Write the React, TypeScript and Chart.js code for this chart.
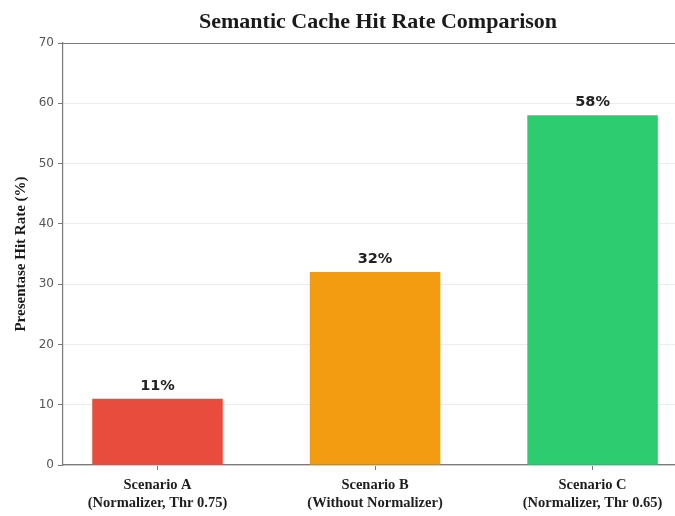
import { useEffect, useRef } from "react";
import { Chart, registerables } from "chart.js";

Chart.register(...registerables);

// Chart content
const chartTitle = "Semantic Cache Hit Rate Comparison";
const yAxisTitle = "Presentase Hit Rate (%)";
const scenarioNames = ["Scenario A", "Scenario B", "Scenario C"];
const scenarioDetails = ["(Normalizer, Thr 0.75)", "(Without Normalizer)", "(Normalizer, Thr 0.65)"];
const hitRates = [11, 32, 58];
const barColors = ["#e74c3c", "#f39c12", "#2ecc71"];
const yMin = 0;
const yMax = 70;
const yStep = 10;

// x range: bars sit at 0, 1, 2; the right side of the plot runs past the canvas edge
const xMin = -0.4345;
const xMax = 2.379;

const spineColor = "#7a7a7a";
const serif = "'Liberation Serif', 'Times New Roman', serif";
const sans = "'DejaVu Sans', sans-serif";

const decorations = {
  id: "decorations",
  afterDatasetsDraw(chart: any) {
    const { ctx, chartArea } = chart;
    const meta = chart.getDatasetMeta(0);
    ctx.save();

    // value labels above each bar
    ctx.font = `bold 14.5px ${sans}`;
    ctx.fillStyle = "#222";
    ctx.textAlign = "center";
    ctx.textBaseline = "alphabetic";
    meta.data.forEach((bar: any, i: number) => {
      ctx.fillText(`${hitRates[i]}%`, bar.x, bar.y - 9);
    });

    // top spine
    ctx.strokeStyle = spineColor;
    ctx.lineWidth = 1.2;
    ctx.beginPath();
    ctx.moveTo(chartArea.left, chartArea.top + 0.5);
    ctx.lineTo(chartArea.right, chartArea.top + 0.5);
    ctx.stroke();

    // title centred over the axes
    const xScale = chart.scales.x;
    ctx.font = `bold 22px ${serif}`;
    ctx.fillStyle = "#1a1a1a";
    ctx.textBaseline = "middle";
    ctx.fillText(chartTitle, xScale.getPixelForValue(1) + 3, 22);
    ctx.restore();
  },
};

export default function App() {
  const canvasRef = useRef<HTMLCanvasElement | null>(null);

  useEffect(() => {
    const canvas = canvasRef.current;
    if (!canvas) return;
    const chart = new Chart(canvas, {
      type: "bar",
      data: {
        datasets: [
          {
            data: hitRates.map((v, i) => ({ x: i, y: v })),
            backgroundColor: barColors,
            borderWidth: 0,
            categoryPercentage: 1,
            barPercentage: 0.6,
          },
        ],
      },
      options: {
        responsive: false,
        animation: false,
        layout: { padding: { top: 43, left: 0, right: 0, bottom: 0 } },
        plugins: {
          legend: { display: false },
          title: { display: false },
          tooltip: { enabled: false },
        },
        scales: {
          x: {
            type: "linear",
            min: xMin,
            max: xMax,
            offset: false,
            afterFit: (scale: any) => {
              scale.height = 51;
            },
            border: { color: spineColor, width: 1.2 },
            grid: {
              offset: false,
              drawOnChartArea: false,
              drawTicks: true,
              tickLength: 5,
              tickColor: spineColor,
            },
            ticks: {
              stepSize: 1,
              includeBounds: false,
              autoSkip: false,
              maxRotation: 0,
              padding: 7,
              color: "#1e1e1e",
              font: { family: serif, size: 14.5, weight: "bold", lineHeight: 1.2 },
              callback: (v: any) => {
                const i = Math.round(Number(v));
                return i >= 0 && i < scenarioNames.length ? [scenarioNames[i], scenarioDetails[i]] : "";
              },
            },
          },
          y: {
            min: yMin,
            max: yMax,
            afterFit: (scale: any) => {
              scale.width = 63;
            },
            border: { color: spineColor, width: 1.2 },
            grid: {
              color: "#ececec",
              lineWidth: 1,
              tickLength: 5,
              tickColor: spineColor,
            },
            ticks: {
              stepSize: yStep,
              padding: 4,
              color: "#555",
              font: { family: sans, size: 12 },
            },
            title: {
              display: true,
              text: yAxisTitle,
              color: "#1a1a1a",
              font: { family: serif, size: 15, weight: "bold" },
              padding: { top: 12, bottom: 0 },
            },
          },
        },
      },
      plugins: [decorations],
    });
    return () => chart.destroy();
  }, []);

  return (
    <div style={{ position: "absolute", left: 0, top: 0, width: 675, height: 516, background: "#fff" }}>
      <canvas ref={canvasRef} width={675} height={516} />
    </div>
  );
}
